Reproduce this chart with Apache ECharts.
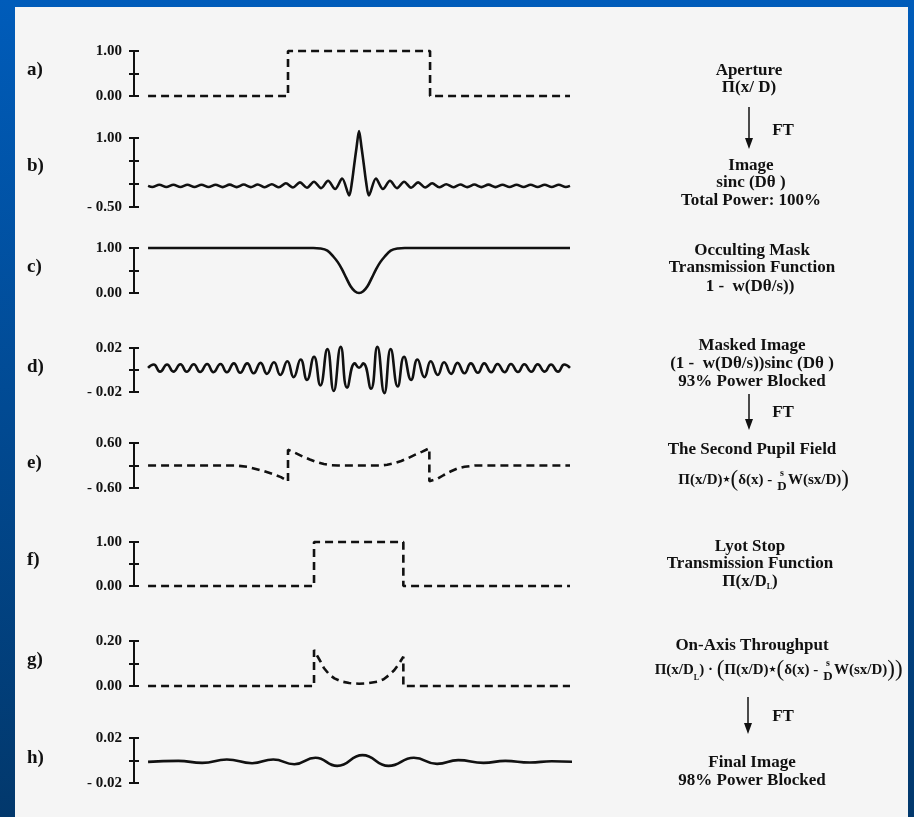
<!DOCTYPE html>
<html>
<head>
<meta charset="utf-8">
<script src="https://cdn.jsdelivr.net/npm/echarts@6/dist/echarts.min.js"></script>
<style>
  html, body { margin: 0; padding: 0; overflow: hidden; }
  #chart { width: 914px; height: 817px; }
</style>
</head>
<body>
<div id="chart"></div>
<script>
// ---- Panel values: x is position across each plot (aperture edges at about ±10) ----
const panelLetters = ['a)', 'b)', 'c)', 'd)', 'e)', 'f)', 'g)', 'h)'];

// [min, max, interval] for each panel's vertical axis
const yRanges = [
  [0, 1, 0.5], [-0.5, 1, 0.5], [0, 1, 0.5], [-0.02, 0.02, 0.02],
  [-0.6, 0.6, 0.6], [0, 1, 0.5], [0, 0.2, 0.1], [-0.02, 0.02, 0.02]
];

// [bottom label, top label]
const tickLabels = [
  ['0.00', '1.00'], ['- 0.50', '1.00'], ['0.00', '1.00'], ['- 0.02', '0.02'],
  ['- 0.60', '0.60'], ['0.00', '1.00'], ['0.00', '0.20'], ['- 0.02', '0.02']
];

// a) aperture
const aperture = [[-30, 0], [-10.1, 0], [-10.1, 1], [10.1, 1], [10.1, 0], [30, 0]];

// b) image, sinc
const sincImage = [
  [-30, -0.04], [-29.4, -0.065], [-28.4, -0.015], [-27.4, -0.065], [-26.4, -0.015],
  [-25.4, -0.065], [-24.4, -0.015], [-23.4, -0.065], [-22.4, -0.015], [-21.4, -0.065],
  [-20.4, -0.015], [-19.4, -0.067], [-18.4, -0.013], [-17.4, -0.067], [-16.4, -0.012],
  [-15.4, -0.068], [-14.4, -0.01], [-13.4, -0.07], [-12.4, -0.005], [-11.4, -0.072],
  [-10.4, 0.015], [-9.4, -0.075], [-8.4, 0.035], [-7.4, -0.08], [-6.4, 0.05],
  [-5.4, -0.09], [-4.4, 0.07], [-3.4, -0.11], [-2.4, 0.12], [-1.4, -0.25],
  [-1.0, 0.05], [-0.7, 0.4], [-0.35, 0.8], [0, 1.15], [0.35, 0.8], [0.7, 0.4], [1.0, 0.05],
  [1.4, -0.25], [2.4, 0.12], [3.4, -0.11], [4.4, 0.07], [5.4, -0.09],
  [6.4, 0.05], [7.4, -0.08], [8.4, 0.035], [9.4, -0.075], [10.4, 0.015],
  [11.4, -0.072], [12.4, -0.005], [13.4, -0.07], [14.4, -0.01], [15.4, -0.068],
  [16.4, -0.012], [17.4, -0.067], [18.4, -0.013], [19.4, -0.067], [20.4, -0.015],
  [21.4, -0.065], [22.4, -0.015], [23.4, -0.065], [24.4, -0.015], [25.4, -0.065],
  [26.4, -0.015], [27.4, -0.065], [28.4, -0.015], [29.4, -0.065], [30, -0.04]
];

// c) occulting mask transmission
const occultingMask = [
  [-30, 1], [-6.5, 1], [-5.5, 0.99], [-4.5, 0.94], [-3.6, 0.8], [-3, 0.68], [-2.4, 0.52],
  [-1.8, 0.33], [-1.2, 0.15], [-0.6, 0.04], [0, 0], [0.6, 0.04], [1.2, 0.15], [1.8, 0.33],
  [2.4, 0.52], [3, 0.68], [3.6, 0.8], [4.5, 0.94], [5.5, 0.99], [6.5, 1], [30, 1]
];

// d) masked image
const maskedImage = [
  [-30, 0.002], [-29.2, 0.005], [-28.3, -0.0015], [-27.3, 0.005], [-26.4, -0.0015],
  [-25.4, 0.0052], [-24.5, -0.0016], [-23.5, 0.0052], [-22.6, -0.0018], [-21.6, 0.0055],
  [-20.7, -0.002], [-19.7, 0.0055], [-18.8, -0.002], [-17.8, 0.006], [-16.9, -0.0025],
  [-15.9, 0.006], [-15.0, -0.003], [-14.0, 0.0065], [-13.1, -0.0035], [-12.1, 0.007],
  [-11.2, -0.0045], [-10.2, 0.008], [-9.3, -0.0065], [-8.3, 0.0095], [-7.4, -0.009],
  [-6.4, 0.012], [-5.5, -0.014], [-4.5, 0.019], [-3.6, -0.019], [-2.6, 0.021],
  [-1.7, -0.016], [-0.6, 0.006], [0, 0.002], [0.6, 0.006], [1.7, -0.017],
  [2.6, 0.021], [3.6, -0.021], [4.5, 0.019], [5.5, -0.015], [6.4, 0.012],
  [7.4, -0.009], [8.3, 0.0095], [9.3, -0.0065], [10.2, 0.008], [11.2, -0.0045],
  [12.1, 0.007], [13.1, -0.0035], [14.0, 0.0065], [15.0, -0.003], [15.9, 0.006],
  [16.9, -0.0025], [17.8, 0.006], [18.8, -0.002], [19.7, 0.0055], [20.7, -0.002],
  [21.6, 0.0055], [22.6, -0.0018], [23.5, 0.0052], [24.5, -0.0016], [25.4, 0.0052],
  [26.4, -0.0015], [27.3, 0.005], [28.3, -0.0015], [29.2, 0.005], [30, 0.002]
];

// e) second pupil field
const secondPupil = [
  [-30, 0], [-17.5, 0], [-15.9, -0.035], [-13.5, -0.15], [-12.2, -0.23], [-11.1, -0.31],
  [-10.1, -0.42], [-10.1, 0.42], [-9, 0.33], [-8, 0.24], [-7, 0.16], [-6, 0.09],
  [-5, 0.04], [-4, 0.01], [-3, 0], [3, 0], [4, 0.02], [5, 0.06], [6, 0.12], [7, 0.2],
  [8, 0.29], [9, 0.37], [10, 0.46], [10, -0.42], [11.1, -0.36], [12, -0.26], [13, -0.16],
  [14, -0.08], [15, -0.035], [16.5, 0], [30, 0]
];

// f) Lyot stop transmission
const lyotStop = [[-30, 0], [-6.4, 0], [-6.4, 1], [6.3, 1], [6.3, 0], [30, 0]];

// g) on-axis throughput
const onAxisThroughput = [
  [-30, 0], [-6.4, 0], [-6.4, 0.16], [-5.5, 0.11], [-5, 0.08], [-4.2, 0.05], [-3.5, 0.034],
  [-2.5, 0.02], [-1.4, 0.013], [0, 0.01], [1.2, 0.012], [2.6, 0.019], [3.5, 0.03],
  [4.2, 0.047], [5, 0.07], [5.7, 0.1], [6.3, 0.13], [6.3, 0], [30, 0]
];

// h) final image
const finalImage = [
  [-30, -0.0012], [-25.7, -0.0003], [-22.3, -0.0021], [-18.8, 0.0009], [-15.2, -0.0024],
  [-12.2, 0.0009], [-9.2, -0.0033], [-6.2, 0.0024], [-3.1, -0.0048], [0.5, 0.0048],
  [4.2, -0.0048], [7.8, 0.0024], [11.1, -0.003], [14.1, 0.0003], [17.7, -0.0021],
  [20.8, -0.0003], [24.3, -0.0018], [27.4, -0.0006], [30.7, -0.0012]
];

const panelData = [aperture, sincImage, occultingMask, maskedImage, secondPupil, lyotStop, onAxisThroughput, finalImage];
const panelDashed = [true, false, false, false, true, true, true, false];
const panelSmooth = [false, 0.3, 0.4, 0.5, false, false, false, 0.5];

// ---- Layout ----
const gridTops = [51, 138, 248, 348, 443, 542, 641, 738];
const gridHeights = [45, 69, 45, 44, 45, 44, 45, 45];
const letterY = [70, 166, 267, 367, 463, 560, 660, 758];
const serif = '"Liberation Serif", "Times New Roman", serif';
const ink = '#111';

const grids = [], xAxes = [], yAxes = [], series = [];
panelData.forEach((data, i) => {
  const [mn, mx, step] = yRanges[i];
  grids.push({ left: 134, width: 436, top: gridTops[i], height: gridHeights[i], outerBoundsMode: 'none', containLabel: false });
  xAxes.push({ type: 'value', gridIndex: i, min: -32, max: 30, show: false });
  const common = {
    type: 'value', gridIndex: i, min: mn, max: mx, interval: step, position: 'left', offset: 0,
    splitLine: { show: false }
  };
  // main axis: line, outward ticks, end labels
  yAxes.push(Object.assign({}, common, {
    axisLine: { show: true, onZero: false, lineStyle: { color: ink, width: 2 } },
    axisTick: { show: true, inside: false, length: 5, lineStyle: { color: ink, width: 2 } },
    axisLabel: {
      show: true, margin: 12, color: ink, fontFamily: serif, fontWeight: 'bold', fontSize: 15,
      formatter: v => Math.abs(v - mx) < 1e-9 ? tickLabels[i][1] : (Math.abs(v - mn) < 1e-9 ? tickLabels[i][0] : '')
    }
  }));
  // companion axis: inward half of each tick so the ticks cross the line
  yAxes.push(Object.assign({}, common, {
    axisLine: { show: false, onZero: false },
    axisTick: { show: true, inside: true, length: 5, lineStyle: { color: ink, width: 2 } },
    axisLabel: { show: false }
  }));
  series.push({
    type: 'line', xAxisIndex: i, yAxisIndex: 2 * i, data: data,
    symbol: 'none', smooth: panelSmooth[i], clip: false, z: 5,
    lineStyle: { color: ink, width: 2.6, type: panelDashed[i] ? [8, 5] : 'solid', cap: 'butt' }
  });
});

// ---- Captions, arrows and formulas on the right ----
const captionFont = 'bold 17px ' + serif;
const captions = [
  ['Aperture', 749, 71], ['\u03a0(x/ D)', 749, 88],
  ['Image', 751, 166], ['sinc (D\u03b8 )', 751, 183], ['Total Power: 100%', 751, 201],
  ['Occulting Mask', 752, 251], ['Transmission Function', 752, 268], ['1 -  w(D\u03b8/s))', 750, 287],
  ['Masked Image', 752, 346], ['(1 -  w(D\u03b8/s))sinc (D\u03b8 )', 752, 364], ['93% Power Blocked', 752, 382],
  ['The Second Pupil Field', 752, 450],
  ['Lyot Stop', 750, 547], ['Transmission Function', 750, 564],
  ['On-Axis Throughput', 752, 646],
  ['Final Image', 752, 763], ['98% Power Blocked', 752, 781]
];
const ftLabels = [[783, 131], [783, 413], [783, 717]];
const arrows = [[749, 107, 149], [749, 394, 430], [748, 697, 734]];

const rich = {
  n: { font: 'bold 15px ' + serif, fill: ink },
  c: { font: 'bold 17px ' + serif, fill: ink },
  sub: { font: 'bold 8px ' + serif, fill: ink, verticalAlign: 'bottom' },
  st: { font: '9px "DejaVu Sans"', fill: ink },
  bp: { font: '23px ' + serif, fill: ink }
};

const graphics = [
  { type: 'rect', z: -100, shape: { x: 15, y: 7, width: 893, height: 815 }, style: { fill: '#f5f5f5' } }
];
panelLetters.forEach((t, i) => graphics.push({
  type: 'text', x: 27, y: letterY[i],
  style: { text: t, font: 'bold 19px ' + serif, fill: ink, align: 'left', verticalAlign: 'middle' }
}));
captions.forEach(([t, x, y]) => graphics.push({
  type: 'text', x, y, style: { text: t, font: captionFont, fill: ink, align: 'center', verticalAlign: 'middle' }
}));
ftLabels.forEach(([x, y]) => graphics.push({
  type: 'text', x, y, style: { text: 'FT', font: captionFont, fill: ink, align: 'center', verticalAlign: 'middle' }
}));
arrows.forEach(([x, y1, y2]) => {
  graphics.push({ type: 'line', shape: { x1: x, y1: y1, x2: x, y2: y2 - 6 }, style: { stroke: ink, lineWidth: 1.5 } });
  graphics.push({ type: 'polygon', shape: { points: [[x - 4, y2 - 11], [x + 4, y2 - 11], [x, y2]] }, style: { fill: ink } });
});
function richText(x, y, text, align) {
  return { type: 'text', x, y, style: { text, rich, align, verticalAlign: 'middle' } };
}
function fraction(x, y) {
  graphics.push({ type: 'text', x, y: y - 7, style: { text: 's', font: 'bold 10px ' + serif, fill: ink, align: 'center', verticalAlign: 'middle' } });
  graphics.push({ type: 'text', x, y: y + 7, style: { text: 'D', font: 'bold 13px ' + serif, fill: ink, align: 'center', verticalAlign: 'middle' } });
}
// Lyot stop aperture function
graphics.push(richText(750, 582, '{c|\u03a0(x/D}{sub|L}{c|)}', 'center'));
// second pupil field
graphics.push(richText(776, 480, '{n|\u03a0(x/D)}{st|\u2605}{bp|(}{n|\u03b4(x) - }', 'right'));
fraction(782, 480);
graphics.push(richText(788, 480, '{n|W(sx/D)}{bp|)}', 'left'));
// on-axis throughput
graphics.push(richText(822, 670, '{n|\u03a0(x/D}{sub|L}{n|) \u00b7 }{bp|(}{n|\u03a0(x/D)}{st|\u2605}{bp|(}{n|\u03b4(x) - }', 'right'));
fraction(828, 670);
graphics.push(richText(834, 670, '{n|W(sx/D)}{bp|))}', 'left'));

const chart = echarts.init(document.getElementById('chart'), null, { renderer: 'canvas' });
chart.setOption({
  animation: false,
  backgroundColor: new echarts.graphic.LinearGradient(0, 0, 0, 1, [
    { offset: 0, color: '#005cba' }, { offset: 1, color: '#02386c' }
  ]),
  grid: grids,
  xAxis: xAxes,
  yAxis: yAxes,
  series: series,
  graphic: graphics
});
</script>
</body>
</html>
